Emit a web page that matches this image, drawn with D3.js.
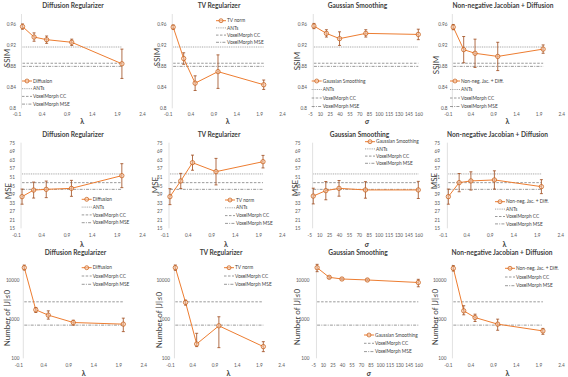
<!DOCTYPE html>
<html><head><meta charset="utf-8">
<script src="https://cdn.jsdelivr.net/npm/d3@7"></script>
<style>body{margin:0;background:#fff}svg{display:block}text{font-family:Lato,"Open Sans",sans-serif}</style>
</head><body><svg id="c" width="568" height="377"></svg>
<script>
// ---------- data ----------
const panelTitles = ["Diffusion Regularizer", "TV Regularizer", "Gaussian Smoothing", "Non-negative Jacobian + Diffusion"];
const seriesNames = ["Diffusion", "TV norm", "Gaussian Smoothing", "Non-neg. Jac. + Diff."];
const refNames = ["ANTs", "VoxelMorph CC", "VoxelMorph MSE"];
const lambdaValues = [0.02, 0.25, 0.5, 1, 2];
const sigmaValues = [1, 20, 40, 80, 160];
const lambdaTicks = [-0.1, 0.4, 0.9, 1.4, 1.9, 2.4];
const sigmaTicks = [-5, 10, 25, 40, 55, 70, 85, 100, 115, 130, 145, 160];
const ssimTicks = [0.8, 0.84, 0.88, 0.92, 0.96];
const mseTicks = [15, 21, 27, 33, 39, 45, 51, 57, 63, 69, 75];
const jacTicks = [100, 1000, 10000];

const diffusionSSIM = [0.956, 0.936, 0.931, 0.926, 0.885];
const diffusionSSIMErr = [0.005, 0.008, 0.007, 0.006, 0.028];
const tvSSIM = [0.955, 0.895, 0.848, 0.870, 0.845];
const tvSSIMErr = [0.004, 0.011, 0.014, 0.032, 0.009];
const gaussianSSIM = [0.957, 0.943, 0.933, 0.943, 0.941];
const gaussianSSIMErr = [0.005, 0.007, 0.013, 0.007, 0.010];
const nonnegSSIM = [0.955, 0.912, 0.905, 0.899, 0.913];
const nonnegSSIMErr = [0.005, 0.025, 0.027, 0.027, 0.008];
const refSSIM = [0.917, 0.886, 0.880];

const diffusionMSE = [37.2, 41.8, 42.3, 43.0, 51.9];
const diffusionMSEErr = [5.3, 5.6, 5.8, 5.6, 8.4];
const tvMSE = [37.2, 48.2, 61.0, 54.7, 61.7];
const tvMSEErr = [5.6, 5.3, 5.3, 9.3, 4.4];
const gaussianMSE = [37.6, 41.4, 43.0, 41.9, 41.9];
const gaussianMSEErr = [5.5, 6.4, 5.5, 5.8, 6.0];
const nonnegMSE = [37.2, 47.0, 48.2, 48.9, 44.2];
const nonnegMSEErr = [5.3, 6.4, 6.4, 6.4, 4.9];
const refMSE = [53.1, 47.0, 42.3];

const diffusionJac = [20600, 1730, 1265, 820, 745];
const diffusionJacLo = [18000, 1480, 1000, 700, 480];
const diffusionJacHi = [24000, 1990, 1630, 940, 1060];
const tvJac = [20600, 2670, 232, 676, 199];
const tvJacLo = [17700, 2280, 199, 187, 148];
const tvJacHi = [24100, 3060, 435, 1150, 266];
const gaussianJac = [20600, 11700, 10600, 10000, 8630];
const gaussianJacLo = [16300, 11000, 10100, 9500, 6700];
const gaussianJacHi = [25100, 12400, 11200, 10600, 10400];
const nonnegJac = [19800, 1630, 1100, 745, 500];
const nonnegJacLo = [16900, 1290, 870, 520, 410];
const nonnegJacHi = [23300, 2200, 1340, 1000, 580];
const refJac = [null, 2770, 703];

// ---------- layout (pixels) ----------
const rowLayout = [
  {top: 14, bot: 108.3, tickY: 116.3, titleY: 7.8, xTitleY: 124},
  {top: 142.7, bot: 228.3, tickY: 237.8, titleY: 136.5, xTitleY: 247},
  {top: 264.4, bot: 358.3, tickY: 367.8, titleY: 254.5, xTitleY: 376}
];
const colRange = [
  [[16.5, 142], [167.7, 282], [310, 418.3], [447.8, 561.3]],
  [[16, 142], [164.3, 281.8], [309.3, 418.3], [442.7, 560.2]],
  [[18.3, 143.3], [170, 281.1], [313.3, 418.3], [447.9, 561]]
];
const yLabelRight = [[18.5, 169, 309.5, 450], [17.5, 165, 303, 442.5], [22, 172.5, 312, 449]];
const yTitlePos = [
  [[7, 58], [157, 57], [297, 61], [436, 65]],
  [[8.5, 191], [155.5, 185], [295, 188], [434, 181]],
  [[7, 318], [159, 320], [297, 317], [435.5, 317]]
];
const titleX = [[73, 219, 357.5, 503], [73, 219, 359.5, 497.5], [75.5, 221, 358, 502]];
const legendPos = [
  [{x: 22, y: 81, dy: 7.7}, {x: 216, y: 20.7, dy: 7.2}, {x: 311.7, y: 81, dy: 8.5}, {x: 450, y: 81, dy: 8.5}],
  [{x: 81.7, y: 199.3, dy: 7.8}, {x: 225, y: 200, dy: 7.8}, {x: 365, y: 141.7, dy: 7.2}, {x: 495, y: 201.7, dy: 7.4}],
  [{x: 81.7, y: 267.7, dy: 8.3}, {x: 224, y: 267.7, dy: 8.3}, {x: 364, y: 335, dy: 8.3}, {x: 505, y: 268.3, dy: 8.7}]
];

const ORANGE = "#ED7D31", ERR = "#9E4A1C", MARK = "#C55A11";
const refStyles = [
  {stroke: "#A6A6A6", dash: "1,0.8", w: 1},
  {stroke: "#808080", dash: "2.5,1.5", w: 0.8},
  {stroke: "#808080", dash: "3,1.2,1,1.2", w: 0.8}
];

// ---------- build panels ----------
const ssimVals = [diffusionSSIM, tvSSIM, gaussianSSIM, nonnegSSIM];
const ssimErrs = [diffusionSSIMErr, tvSSIMErr, gaussianSSIMErr, nonnegSSIMErr];
const mseVals = [diffusionMSE, tvMSE, gaussianMSE, nonnegMSE];
const mseErrs = [diffusionMSEErr, tvMSEErr, gaussianMSEErr, nonnegMSEErr];
const metrics = [
  {label: "SSIM", ticks: ssimTicks, domain: [0.8, 0.98], log: false, vals: ssimVals,
   lo: ssimVals.map((a, i) => a.map((v, j) => v - ssimErrs[i][j])),
   hi: ssimVals.map((a, i) => a.map((v, j) => v + ssimErrs[i][j])), refs: refSSIM},
  {label: "MSE", ticks: mseTicks, domain: [15, 75], log: false, vals: mseVals,
   lo: mseVals.map((a, i) => a.map((v, j) => v - mseErrs[i][j])),
   hi: mseVals.map((a, i) => a.map((v, j) => v + mseErrs[i][j])), refs: refMSE},
  {label: "Number of |J|\u22640", ticks: jacTicks, domain: [100, 25000], log: true,
   vals: [diffusionJac, tvJac, gaussianJac, nonnegJac],
   lo: [diffusionJacLo, tvJacLo, gaussianJacLo, nonnegJacLo],
   hi: [diffusionJacHi, tvJacHi, gaussianJacHi, nonnegJacHi], refs: refJac}
];

const svg = d3.select("#c");
svg.append("rect").attr("width", 568).attr("height", 377).attr("fill", "#fff");

metrics.forEach((m, r) => {
  const L = rowLayout[r];
  const y = (m.log ? d3.scaleLog() : d3.scaleLinear()).domain(m.domain).range([L.bot, L.top]);
  for (let c = 0; c < 4; c++) {
    const isSigma = c === 2;
    const xv = isSigma ? sigmaValues : lambdaValues;
    const xt = isSigma ? sigmaTicks : lambdaTicks;
    const x = d3.scaleLinear().domain([xt[0], xt[xt.length - 1]]).range(colRange[r][c]);
    const g = svg.append("g");

    g.append("line").attr("x1", x(0)).attr("x2", x(0)).attr("y1", L.bot).attr("y2", L.top)
      .attr("stroke", "#D9D9D9").attr("stroke-width", 0.8);

    const yAx = d3.axisLeft(y).tickValues(m.ticks).tickSize(0).tickFormat(d => String(d));
    const ya = g.append("g").attr("transform", `translate(${yLabelRight[r][c] + 0.5},0)`).call(yAx);
    ya.select(".domain").remove();
    ya.selectAll("text").attr("font-size", 4.7).attr("fill", "#595959").attr("font-family", "Lato");

    const xAx = d3.axisBottom(x).tickValues(xt).tickSize(0).tickFormat(d => String(d));
    const xa = g.append("g").attr("transform", `translate(0,${L.tickY - 4})`).call(xAx);
    xa.select(".domain").remove();
    xa.selectAll("text").attr("font-size", 4.7).attr("fill", "#595959").attr("dy", 0).attr("y", 3.5).attr("font-family", "Lato");

    m.refs.forEach((v, k) => {
      if (v == null) return;
      const s = refStyles[k];
      g.append("line").attr("x1", x(xv[0])).attr("x2", x(xv[xv.length - 1]))
        .attr("y1", y(v)).attr("y2", y(v))
        .attr("stroke", s.stroke).attr("stroke-width", s.w).attr("stroke-dasharray", s.dash);
    });

    const pts = xv.map((v, i) => ({x: v, y: m.vals[c][i], lo: m.lo[c][i], hi: m.hi[c][i]}));
    g.append("path").datum(pts)
      .attr("d", d3.line().x(d => x(d.x)).y(d => y(d.y)))
      .attr("fill", "none").attr("stroke", ORANGE).attr("stroke-width", 1);

    pts.forEach(d => {
      g.append("line").attr("x1", x(d.x)).attr("x2", x(d.x)).attr("y1", y(d.lo)).attr("y2", y(d.hi))
        .attr("stroke", ERR).attr("stroke-width", 0.8);
      [d.lo, d.hi].forEach(e => g.append("line").attr("x1", x(d.x) - 1.5).attr("x2", x(d.x) + 1.5)
        .attr("y1", y(e)).attr("y2", y(e)).attr("stroke", ERR).attr("stroke-width", 0.8));
    });
    g.selectAll("circle.mk").data(pts).enter().append("circle")
      .attr("cx", d => x(d.x)).attr("cy", d => y(d.y)).attr("r", 2.2)
      .attr("fill", "#F8CBAD").attr("fill-opacity", 0.6).attr("stroke", MARK).attr("stroke-width", 0.7);

    g.append("text").attr("x", titleX[r][c]).attr("y", L.titleY).attr("text-anchor", "middle")
      .attr("font-size", 6.6).attr("font-weight", "bold").attr("fill", "#404040").text(panelTitles[c]);

    const yt = yTitlePos[r][c];
    g.append("text").attr("transform", `translate(${yt[0] + 2.8},${yt[1]}) rotate(-90)`)
      .attr("text-anchor", "middle").attr("font-size", 8).attr("fill", "#404040").text(m.label);

    g.append("text").attr("x", (colRange[r][c][0] + colRange[r][c][1]) / 2 + 3).attr("y", L.xTitleY)
      .attr("text-anchor", "middle").attr("font-size", 7.2).attr("font-weight", "bold")
      .attr("font-style", isSigma ? "italic" : "normal").attr("fill", "#404040")
      .text(isSigma ? "\u03C3" : "\u03BB");

    const lp = legendPos[r][c];
    const entries = [{name: seriesNames[c], series: true}];
    m.refs.forEach((v, k) => { if (v != null) entries.push({name: refNames[k], k}); });
    entries.forEach((e, i) => {
      const ly = lp.y + i * lp.dy;
      if (e.series) {
        g.append("line").attr("x1", lp.x).attr("x2", lp.x + 10).attr("y1", ly).attr("y2", ly)
          .attr("stroke", ORANGE).attr("stroke-width", 1);
        g.append("circle").attr("cx", lp.x + 5).attr("cy", ly).attr("r", 2)
          .attr("fill", "#F8CBAD").attr("fill-opacity", 0.6).attr("stroke", MARK).attr("stroke-width", 0.7);
      } else {
        const s = refStyles[e.k];
        g.append("line").attr("x1", lp.x).attr("x2", lp.x + 10).attr("y1", ly).attr("y2", ly)
          .attr("stroke", s.stroke).attr("stroke-width", s.w).attr("stroke-dasharray", s.dash);
      }
      g.append("text").attr("x", lp.x + 11).attr("y", ly + 1.6).attr("font-size", 4.8)
        .attr("fill", "#404040").text(e.name);
    });
  }
});
</script></body></html>
